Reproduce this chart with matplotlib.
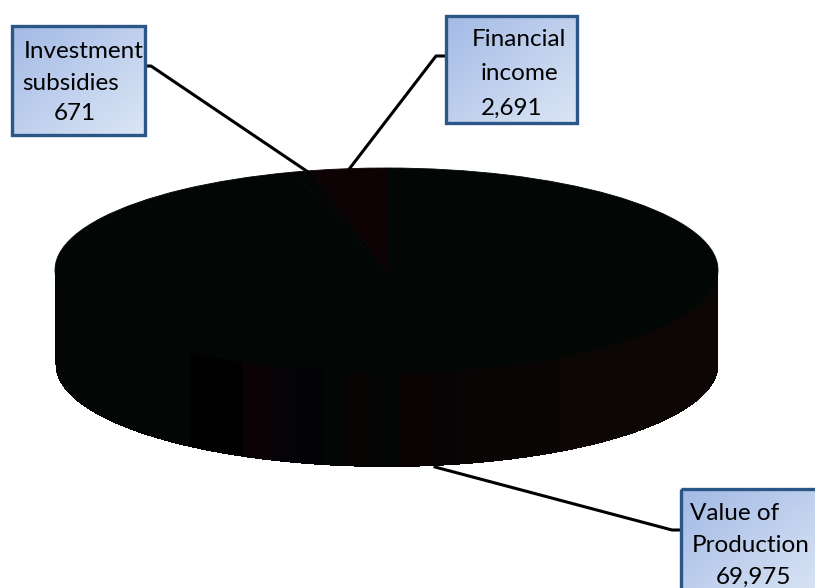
import numpy as np
from matplotlib import pyplot as plt
from matplotlib.patches import Rectangle

# Slice values and names, clockwise from 12 o'clock
labels = ['Value of Production', 'Investment subsidies', 'Financial income']
values = [69975, 671, 2691]
slice_colors = ['#020706', '#040605', '#0e0204']

# Shades seen on the side wall of the disc, left to right
wall_edges = [55, 190, 243, 272, 300, 325, 345, 370, 400, 430, 460, 560, 718]
wall_colors = ['#030605', '#010101', '#0a0204', '#050208', '#020207', '#020706',
               '#090404', '#030504', '#0a0303', '#060404', '#080504', '#0c0705']

# Text lines of each callout box: (x, y, text)
invest_lines = [(24, 51, 'Investment'), (22, 83, 'subsidies'), (54, 114, f'{values[1]}')]
finance_lines = [(472, 39, 'Financial'), (481, 73, 'income'), (481, 108, f'{values[2]:,}')]
value_lines = [(690, 513, 'Value of'), (692, 545, 'Production'), (716, 577, f'{values[0]:,}')]

# Callout boxes: left, top, right, bottom in pixels
invest_box = (12, 26, 145, 135)
finance_box = (446, 16, 577, 123)
value_box = (681, 489, 822, 600)

# Leader lines
invest_leader = ([145, 151, 308], [66, 66, 172])
finance_leader = ([446, 436, 350], [56, 56, 168])
value_leader = ([435, 672, 681], [467, 530, 530])

plt.rcParams['font.family'] = ['Lato', 'DejaVu Sans']

fig = plt.figure(figsize=(8.15, 5.88), dpi=100)
ax = fig.add_axes([0, 0, 1, 1])
ax.set_xlim(0, 815)
ax.set_ylim(588, 0)
ax.axis('off')

# Disc geometry in pixels
cx, rx = 386.5, 331.5
top_y, ry, depth = 270, 102, 95


def ellipse_drop(x):
    return ry * np.sqrt(np.clip(1 - ((x - cx) / rx) ** 2, 0, 1))


# Side wall, one band per shade
for i, col in enumerate(wall_colors):
    x = np.arange(wall_edges[i], wall_edges[i + 1] + 1)
    ax.fill_between(x, top_y, top_y + depth + ellipse_drop(x), step='mid', color=col, linewidth=0)

# Top face is a real pie squeezed into the ellipse's box
pie_ax = fig.add_axes([(cx - rx) / 815, (588 - top_y - ry) / 588, 2 * rx / 815, 2 * ry / 588])
wedges, _ = pie_ax.pie(values, colors=slice_colors, startangle=90, counterclock=False, radius=1)
for w in wedges:
    # same colour edge hides the pale seam between slices
    w.set_edgecolor(w.get_facecolor())
    w.set_linewidth(0.6)
pie_ax.set_aspect('auto')
pie_ax.set_xlim(-1, 1)
pie_ax.set_ylim(-1, 1)
pie_ax.patch.set_alpha(0)

# Overlay for boxes and leaders, above the pie
over = fig.add_axes([0, 0, 1, 1])
over.set_xlim(0, 815)
over.set_ylim(588, 0)
over.axis('off')
over.patch.set_alpha(0)

for xs, ys in (invest_leader, finance_leader, value_leader):
    over.plot(xs, ys, color='black', linewidth=2.2, solid_joinstyle='round')

# Diagonal blue gradient for the box fill
u, v = np.meshgrid(np.linspace(0, 1, 64), np.linspace(0, 1, 64))
t = (u + v) / 2
c0 = np.array([0.64, 0.73, 0.90])
c1 = np.array([0.86, 0.90, 0.96])
grad = c0 + (c1 - c0) * t[..., None]

for left, top, right, bottom in (invest_box, finance_box, value_box):
    over.imshow(grad, extent=(left, right, bottom, top), aspect='auto', zorder=3, interpolation='bilinear')
    over.add_patch(Rectangle((left, top), right - left, bottom - top, fill=False,
                             edgecolor='#2a5788', linewidth=2.4, zorder=4))
over.set_xlim(0, 815)
over.set_ylim(588, 0)

for lines in (invest_lines, finance_lines, value_lines):
    for x, y, s in lines:
        over.text(x, y, s, fontsize=17.5, color='black', ha='left', va='center', zorder=5)

fig.savefig('out.png', dpi=100)
